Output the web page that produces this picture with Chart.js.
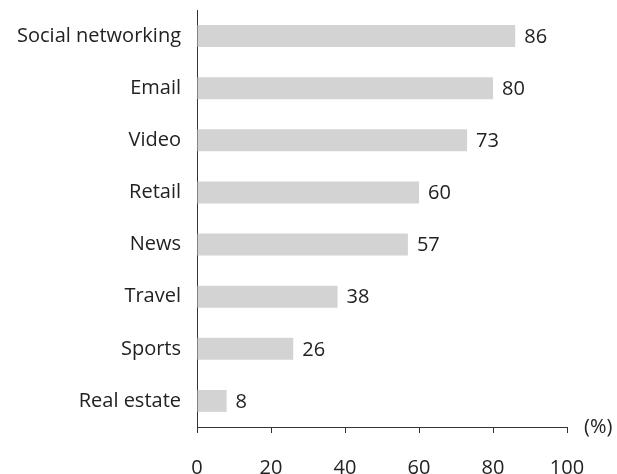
<!DOCTYPE html>
<html>
<head>
<meta charset="utf-8">
<script src="https://cdn.jsdelivr.net/npm/chart.js@4"></script>
<style>
  html, body { margin: 0; padding: 0; background: #fff; }
  #wrap { width: 617px; height: 474px; }
</style>
</head>
<body>
<div id="wrap"><canvas id="chart"></canvas></div>
<script>
const categories = ["Social networking", "Email", "Video", "Retail", "News", "Travel", "Sports", "Real estate"];
const values = [86, 80, 73, 60, 57, 38, 26, 8];
const xTicks = [0, 20, 40, 60, 80, 100];

const FONT = '"Open Sans", "Noto Sans", sans-serif';
const TEXT_COLOR = "#222";
const AXIS_COLOR = "#333";
const BAR_COLOR = "#d3d3d3";

const valueLabels = {
  id: "valueLabels",
  afterDatasetsDraw(chart) {
    const ctx = chart.ctx;
    const meta = chart.getDatasetMeta(0);
    ctx.save();
    ctx.font = `20px ${FONT}`;
    ctx.fillStyle = TEXT_COLOR;
    ctx.textBaseline = "middle";
    ctx.textAlign = "left";
    meta.data.forEach((bar, i) => {
      ctx.fillText(String(values[i]), bar.x + 9, bar.y + 1);
    });
    // unit label at the end of the x axis
    const x = chart.scales.x;
    ctx.fillText("(%)", x.right + 17, x.top);
    ctx.restore();
  },
};

new Chart(document.getElementById("chart"), {
  type: "bar",
  data: {
    labels: categories,
    datasets: [{
      data: values,
      backgroundColor: BAR_COLOR,
      borderWidth: 0,
      categoryPercentage: 1,
      barPercentage: 0.42,
    }],
  },
  options: {
    indexAxis: "y",
    responsive: true,
    maintainAspectRatio: false,
    animation: false,
    layout: { padding: { top: 10, right: 50, bottom: 0, left: 0 } },
    plugins: { legend: { display: false }, tooltip: { enabled: false } },
    scales: {
      x: {
        min: 0,
        max: 100,
        afterBuildTicks(scale) { scale.ticks = xTicks.map((v) => ({ value: v })); },
        afterFit(scale) { scale.height = 47; scale.paddingLeft = 0; scale.paddingRight = 0; },
        grid: { display: true, drawOnChartArea: false, tickLength: 6, tickColor: AXIS_COLOR, tickWidth: 1 },
        border: { display: true, color: AXIS_COLOR, width: 1 },
        ticks: { color: TEXT_COLOR, font: { family: FONT, size: 20 }, padding: 23, maxRotation: 0 },
      },
      y: {
        afterFit(scale) { scale.width = 197; scale.paddingTop = 0; scale.paddingBottom = 0; },
        grid: { display: false },
        border: { display: true, color: AXIS_COLOR, width: 1 },
        ticks: { color: TEXT_COLOR, font: { family: FONT, size: 20 }, padding: 8 },
      },
    },
  },
  plugins: [valueLabels],
});
</script>
</body>
</html>
